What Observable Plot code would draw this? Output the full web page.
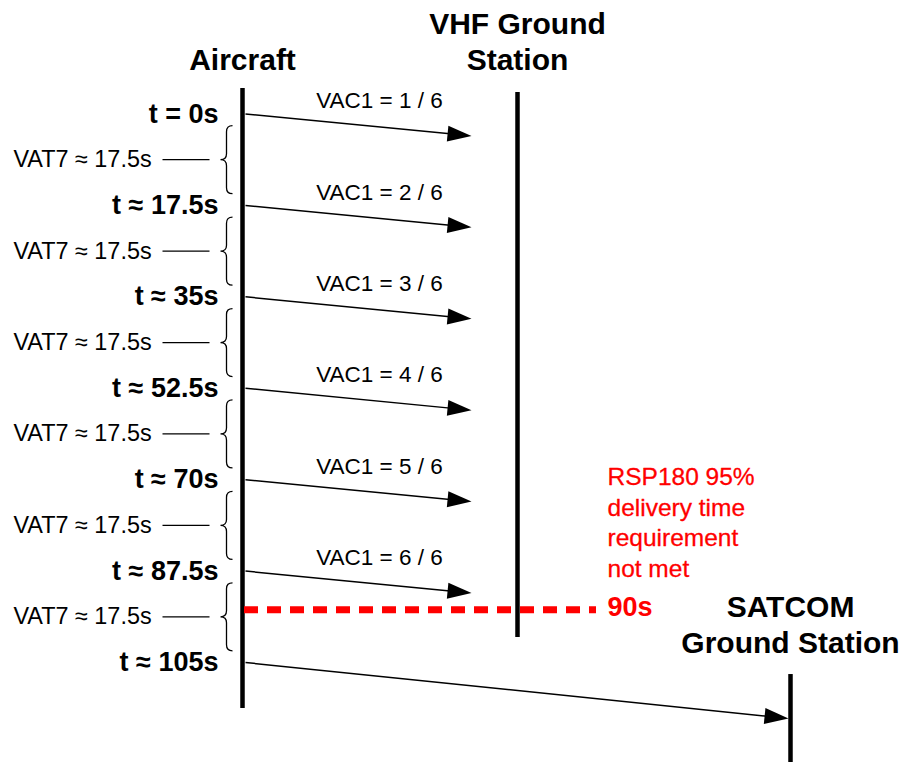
<!DOCTYPE html>
<html>
<head>
<meta charset="utf-8">
<script src="https://cdn.jsdelivr.net/npm/d3@7"></script>
<script src="https://cdn.jsdelivr.net/npm/@observablehq/plot@0.6"></script>
<style>
  html, body { margin: 0; padding: 0; background: #fff; }
  #chart { width: 901px; height: 762px; }
</style>
</head>
<body>
<div id="chart"></div>
<script>
// ---------- data ----------
const sendTimes = [0, 17.5, 35, 52.5, 70, 87.5, 105];           // seconds
const timeLabels = ["t = 0s", "t ≈ 17.5s", "t ≈ 35s", "t ≈ 52.5s", "t ≈ 70s", "t ≈ 87.5s", "t ≈ 105s"];
const vacLabels = ["VAC1 = 1 / 6", "VAC1 = 2 / 6", "VAC1 = 3 / 6", "VAC1 = 4 / 6", "VAC1 = 5 / 6", "VAC1 = 6 / 6"];
const vatLabel = "VAT7 ≈ 17.5s";
const laneNames = ["Aircraft", "VHF Ground\nStation", "SATCOM\nGround Station"];
const deadlineLabel = "90s";
const noteText = "RSP180 95%\ndelivery time\nrequirement\nnot met";
const vhfDelay = 4.2;   // drawn transit of a VHF uplink attempt (s)
const satDelay = 10.7;  // drawn transit of the SATCOM message (s)

// ---------- layout (diagram units) ----------
const W = 901, H = 762;
const yDomain = [-21.73, 124.14];          // time (s) shown top -> bottom
const laneX = [242, 517, 790];
const laneTop = [-4.9, -4.1, 107.3];
const laneBottom = [113.8, 100.2, 124.2];
const headerY = -8.5;
const arrowStartX = 245;
const vhfTipX = 471;
const satTipX = 788;
const pxPerSec = H / (yDomain[1] - yDomain[0]);

const FONT = "Liberation Sans, Arial, Helvetica, sans-serif";

// tables built from the arrays
const rows = sendTimes.map((t, i) => ({t, label: timeLabels[i]}));
const vhfMsgs = vacLabels.map((label, i) => ({t: sendTimes[i], label, tip: vhfTipX, delay: vhfDelay}));
const satMsg = [{t: sendTimes[6], tip: satTipX, delay: satDelay}];
const msgs = [...vhfMsgs, ...satMsg];
const intervals = sendTimes.slice(0, -1).map((t, i) => ({mid: (t + sendTimes[i + 1]) / 2, label: vatLabel}));
const lanes = laneNames.map((name, i) => ({name, x: laneX[i], top: laneTop[i], bottom: laneBottom[i]}));
const lastMid = intervals[intervals.length - 1].mid;

// custom symbols
const arrowHead = {
  draw(ctx) {
    ctx.moveTo(0, 0);
    ctx.lineTo(-24, -8);
    ctx.lineTo(-24, 8);
    ctx.closePath();
  }
};
const brace = {
  draw(ctx) {
    ctx.moveTo(6, -34);
    ctx.quadraticCurveTo(0, -34, 0, -28);
    ctx.lineTo(0, -6);
    ctx.quadraticCurveTo(0, 0, -6, 0);
    ctx.quadraticCurveTo(0, 0, 0, 6);
    ctx.lineTo(0, 28);
    ctx.quadraticCurveTo(0, 34, 6, 34);
  }
};
const angleOf = d => Math.atan2(d.delay * pxPerSec, d.tip - arrowStartX) * 180 / Math.PI;

const plot = Plot.plot({
  width: W,
  height: H,
  margin: 0,
  style: {background: "white", fontFamily: FONT},
  x: {domain: [0, W], axis: null},
  y: {domain: yDomain, reverse: true, axis: null},
  marks: [
    // lifelines
    Plot.ruleX(lanes, {x: "x", y1: "top", y2: "bottom", stroke: "black", strokeWidth: 4.5}),
    // lane headers
    Plot.text(lanes.slice(0, 2), {x: "x", y: headerY, text: "name", lineAnchor: "bottom", lineHeight: 1.2,
      fontSize: 30, fontWeight: "bold", fill: "black", fontFamily: FONT}),
    Plot.text(lanes.slice(2), {x: "x", y: () => sendTimes[6], dy: -10, text: "name", lineAnchor: "bottom", lineHeight: 1.17,
      fontSize: 30, fontWeight: "bold", fill: "black", fontFamily: FONT}),
    // deadline
    Plot.ruleY([lastMid], {x1: 244, x2: 596, dy: -7, stroke: "#ff0000", strokeWidth: 7, strokeDasharray: "14,9"}),
    Plot.text([deadlineLabel], {x: 607, y: lastMid, dy: -9, text: d => d, textAnchor: "start",
      fontSize: 27, fontWeight: "bold", fill: "#ff0000", fontFamily: FONT}),
    Plot.text([noteText], {x: 607, y: lastMid, dy: -40, text: d => d, textAnchor: "start", lineAnchor: "bottom",
      lineHeight: 1.25, fontSize: 24.5, fill: "#ff0000", stroke: "#ff0000", strokeWidth: 0.3, fontFamily: FONT}),
    // message shafts
    Plot.link(msgs, {x1: arrowStartX, y1: "t", x2: d => d.tip - 6, y2: d => d.t + d.delay * (d.tip - 6 - arrowStartX) / (d.tip - arrowStartX),
      stroke: "black", strokeWidth: 1.5}),
    // arrow heads
    Plot.dot(msgs, {x: "tip", y: d => d.t + d.delay, symbol: arrowHead, rotate: angleOf, fill: "black", stroke: "none", r: 5}),
    // VAC labels
    Plot.text(vhfMsgs, {x: 379, y: "t", dy: -13, text: "label", fontSize: 22.5, fill: "black", fontFamily: FONT}),
    // time labels
    Plot.text(rows, {x: 218, y: "t", text: "label", textAnchor: "end", fontSize: 27, fontWeight: "bold", fill: "black", fontFamily: FONT}),
    // VAT7 intervals
    Plot.text(intervals, {x: 13, y: "mid", text: "label", textAnchor: "start", fontSize: 23.4, fill: "black", fontFamily: FONT}),
    Plot.link(intervals, {x1: 162, x2: 209, y1: "mid", y2: "mid", stroke: "black", strokeWidth: 1.3}),
    Plot.dot(intervals, {x: 226, y: "mid", symbol: brace, fill: "none", stroke: "black", strokeWidth: 1.3, r: 5})
  ]
});
document.getElementById("chart").appendChild(plot);
</script>
</body>
</html>
